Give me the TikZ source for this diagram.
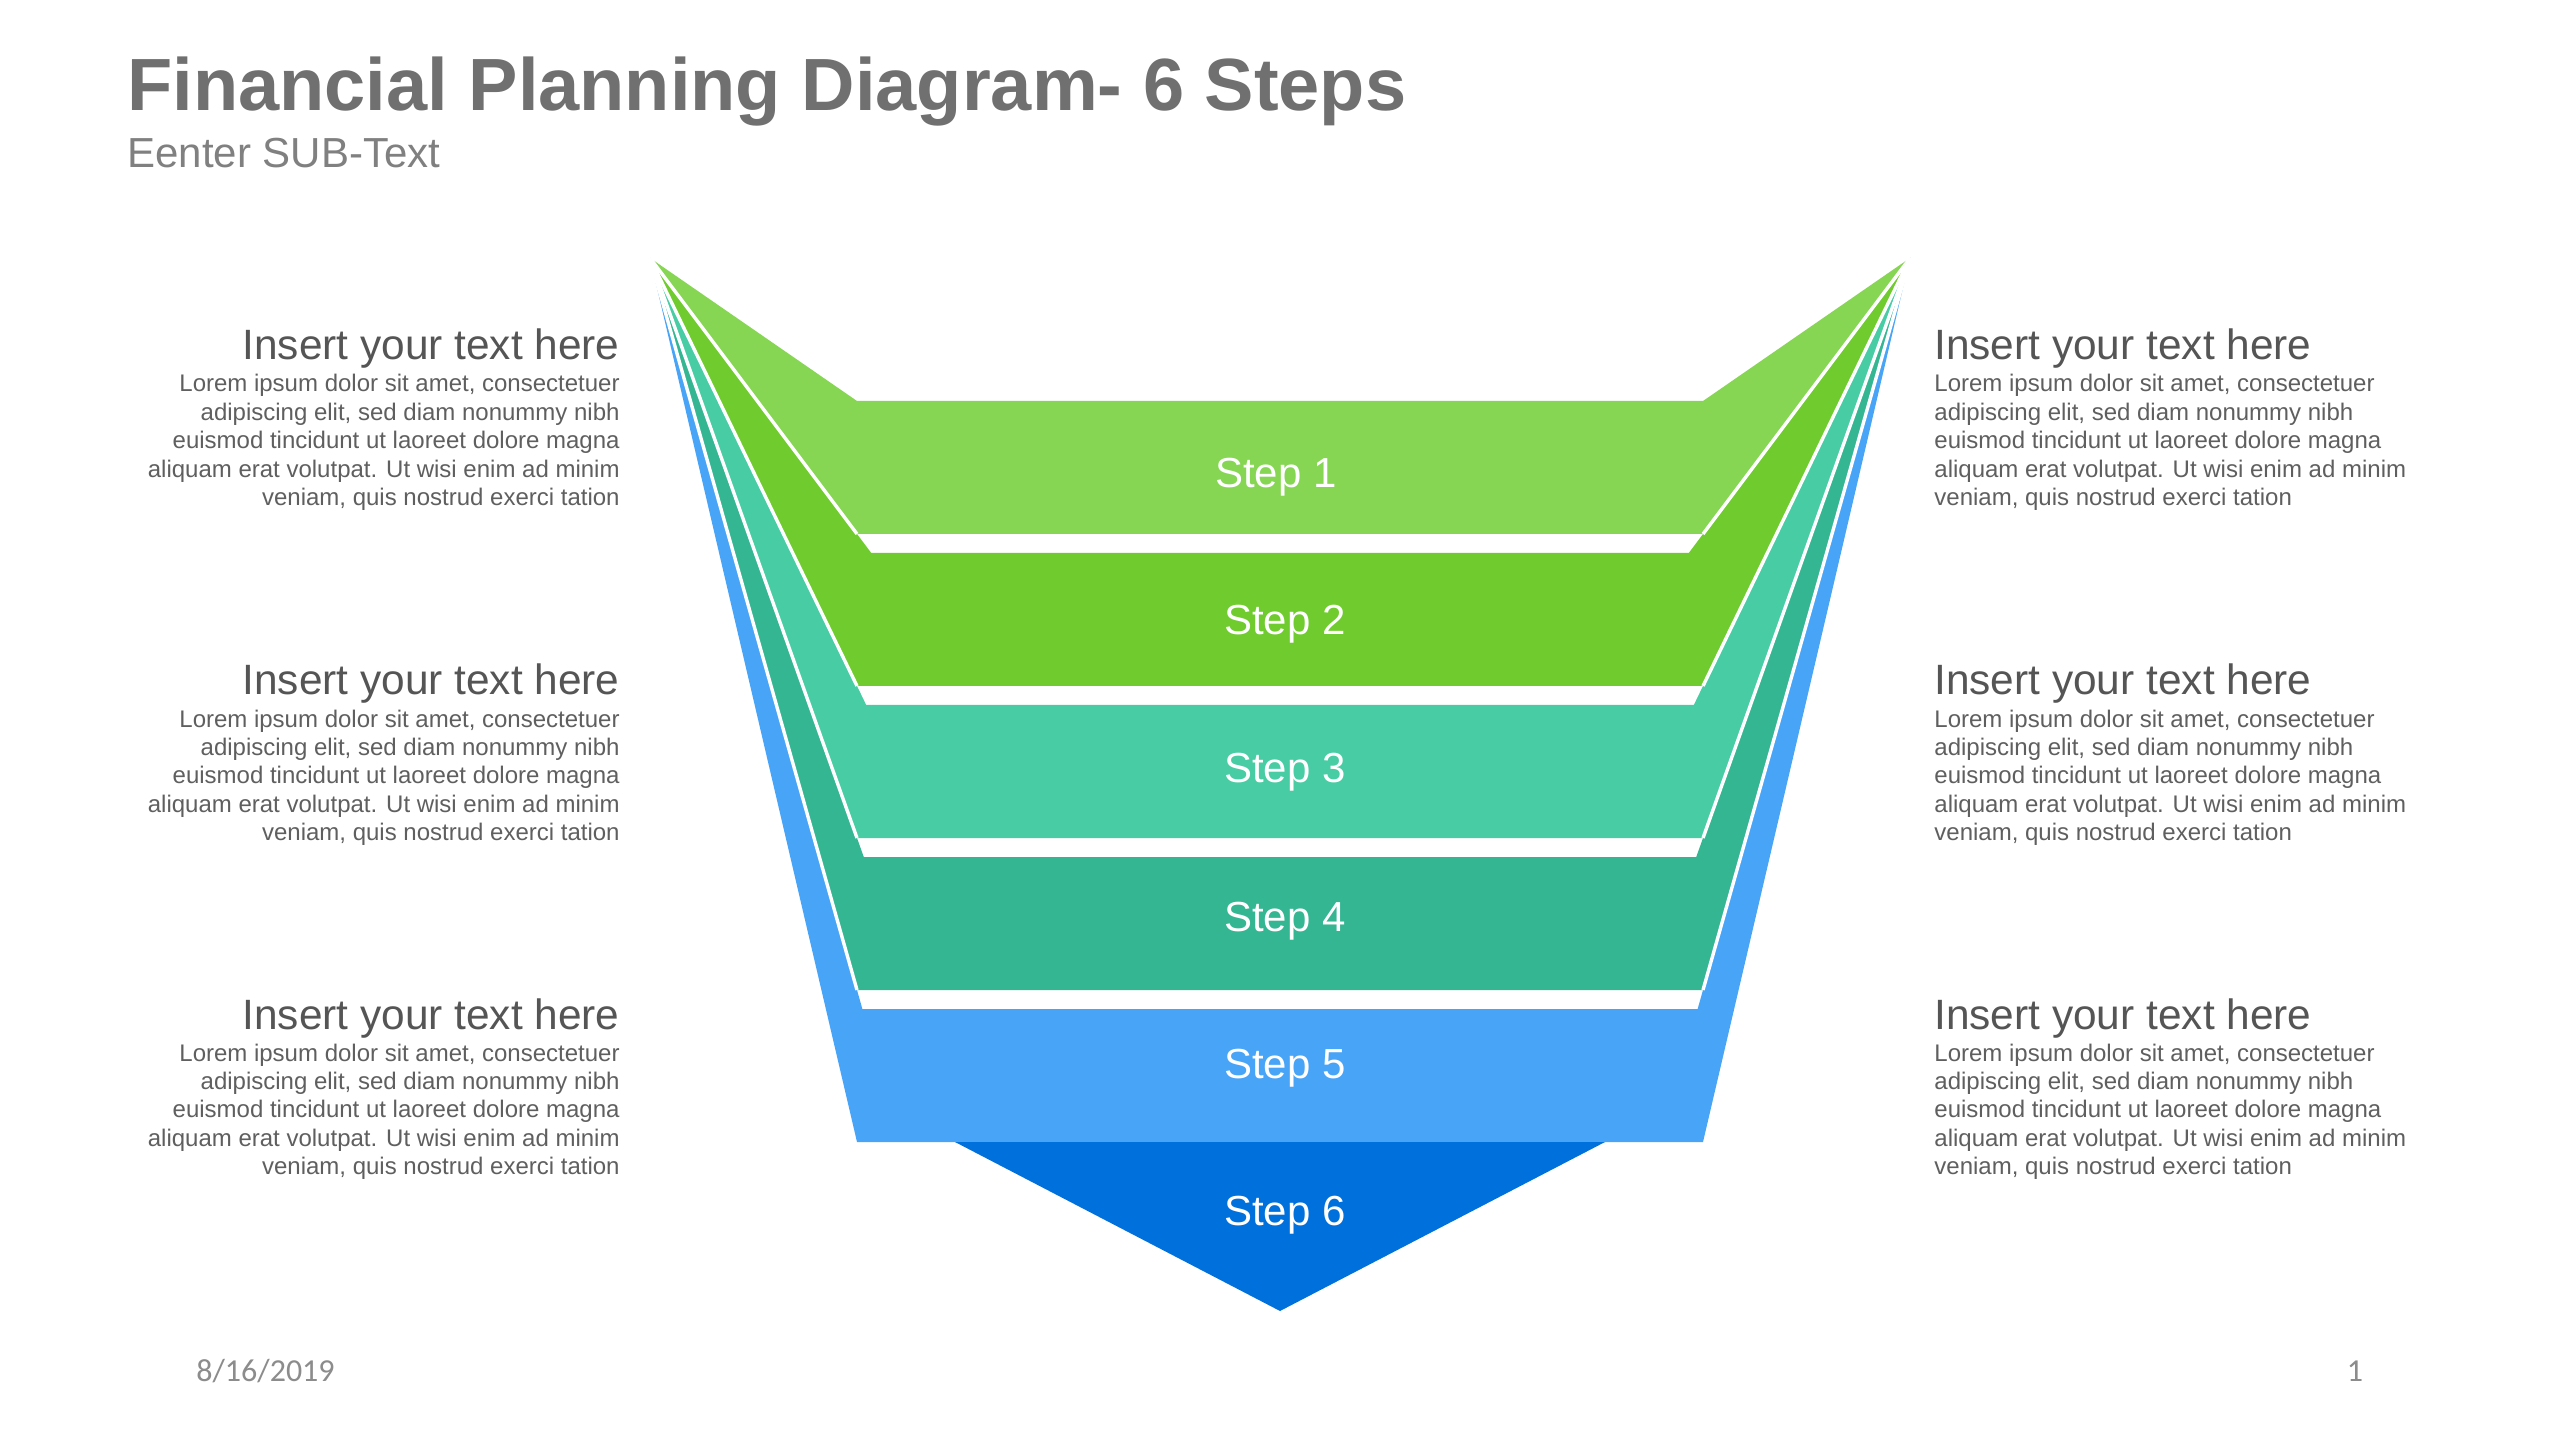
\documentclass[tikz,border=0pt]{standalone}
\usepackage{fontspec}
\setmainfont{Liberation Sans}
\newfontfamily\footfont{Carlito}
\definecolor{sone}{RGB}{134,214,84}
\definecolor{stwo}{RGB}{112,204,46}
\definecolor{sthree}{RGB}{72,204,163}
\definecolor{sfour}{RGB}{52,182,147}
\definecolor{sfive}{RGB}{72,164,247}
\definecolor{ssix}{RGB}{0,112,221}
\definecolor{titlegray}{RGB}{112,112,112}
\definecolor{subgray}{RGB}{128,128,128}
\definecolor{headgray}{RGB}{85,85,85}
\definecolor{bodygray}{RGB}{95,95,95}
\definecolor{footgray}{RGB}{140,140,140}
\begin{document}
\begin{tikzpicture}[x=0.5pt,y=-0.5pt,
  sepline/.style={draw=white,line width=1.7pt},
  steplabel/.style={anchor=base,inner sep=0pt,text=white,font=\fontsize{21}{25}\selectfont},
  headtxt/.style={inner sep=0pt,text=headgray,font=\fontsize{21.2}{25}\selectfont},
  bodytxt/.style={inner sep=0pt,text=bodygray,font=\fontsize{12}{14}\selectfont}]
\useasboundingbox (0,0) rectangle (2560,1438);
\fill[white] (0,0) rectangle (2560,1438);
% title
\node[anchor=base west,inner sep=0pt,text=titlegray,font=\fontsize{37}{44}\selectfont\bfseries] (title) at (127,111) {Financial Planning Diagram- 6 Steps};
\node[anchor=base west,inner sep=0pt,text=subgray,font=\fontsize{21}{25}\selectfont] (subtitle) at (127,168) {Eenter SUB-Text};
% funnel layers
\coordinate (AL) at (650,258);
\coordinate (AR) at (1910,258);
\foreach \i/\c in {5/sfive,4/sfour,3/sthree,2/stwo,1/sone}{
  \pgfmathsetmacro\tp{401+152*(\i-1)}
  \pgfmathsetmacro\bt{\tp+133}
  \pgfmathsetmacro\pb{\i==1 ? 401 : 401+152*(\i-2)+133}
  \pgfmathsetmacro\px{650+(\tp-258)/(\pb-258)*207}
  \pgfmathsetmacro\qx{2560-\px}
  \fill[\c] (AL) -- (\px,\tp) -- (\qx,\tp) -- (AR) -- (1703,\bt) -- (857,\bt) -- cycle;
}
\foreach \i in {1,...,4}{
  \pgfmathsetmacro\bt{401+152*(\i-1)+133}
  \draw[sepline] (AL) -- (857,\bt);
  \draw[sepline] (AR) -- (1703,\bt);
}
\fill[ssix] (955,1142) -- (1605,1142) -- (1280,1311) -- cycle;
% step labels
\node[steplabel] (st1) at (1276,488) {Step 1};
\node[steplabel] (st2) at (1285,635) {Step 2};
\node[steplabel] (st3) at (1285,782) {Step 3};
\node[steplabel] (st4) at (1285,931) {Step 4};
\node[steplabel] (st5) at (1285,1078) {Step 5};
\node[steplabel] (st6) at (1285,1225) {Step 6};
% side texts
\foreach \g/\yy in {1/0,2/335,3/669}{
  \node[headtxt,anchor=base east] (hl\g) at (620,360+\yy) {Insert your text here};
  \node[headtxt,anchor=base west] (hr\g) at (1934,360+\yy) {Insert your text here};
  \foreach \t [count=\k] in {{Lorem ipsum dolor sit amet, consectetuer},{adipiscing elit, sed diam nonummy nibh},{euismod tincidunt ut laoreet dolore magna},{aliquam erat volutpat. Ut wisi enim ad minim},{veniam, quis nostrud exerci tation}}{
    \node[bodytxt,anchor=base east] (bl\g-\k) at (620,392+\yy+28.4*\k-28.4) {\t};
    \node[bodytxt,anchor=base west] (br\g-\k) at (1934,392+\yy+28.4*\k-28.4) {\t};
  }
}
% footer
\node[anchor=base west,inner sep=0pt,text=footgray,font=\footfont\fontsize{16}{19}\selectfont] (date) at (196,1381) {8/16/2019};
\node[anchor=base,inner sep=0pt,text=footgray,font=\footfont\fontsize{16}{19}\selectfont] (page) at (2355,1381) {1};
\end{tikzpicture}
\end{document}
